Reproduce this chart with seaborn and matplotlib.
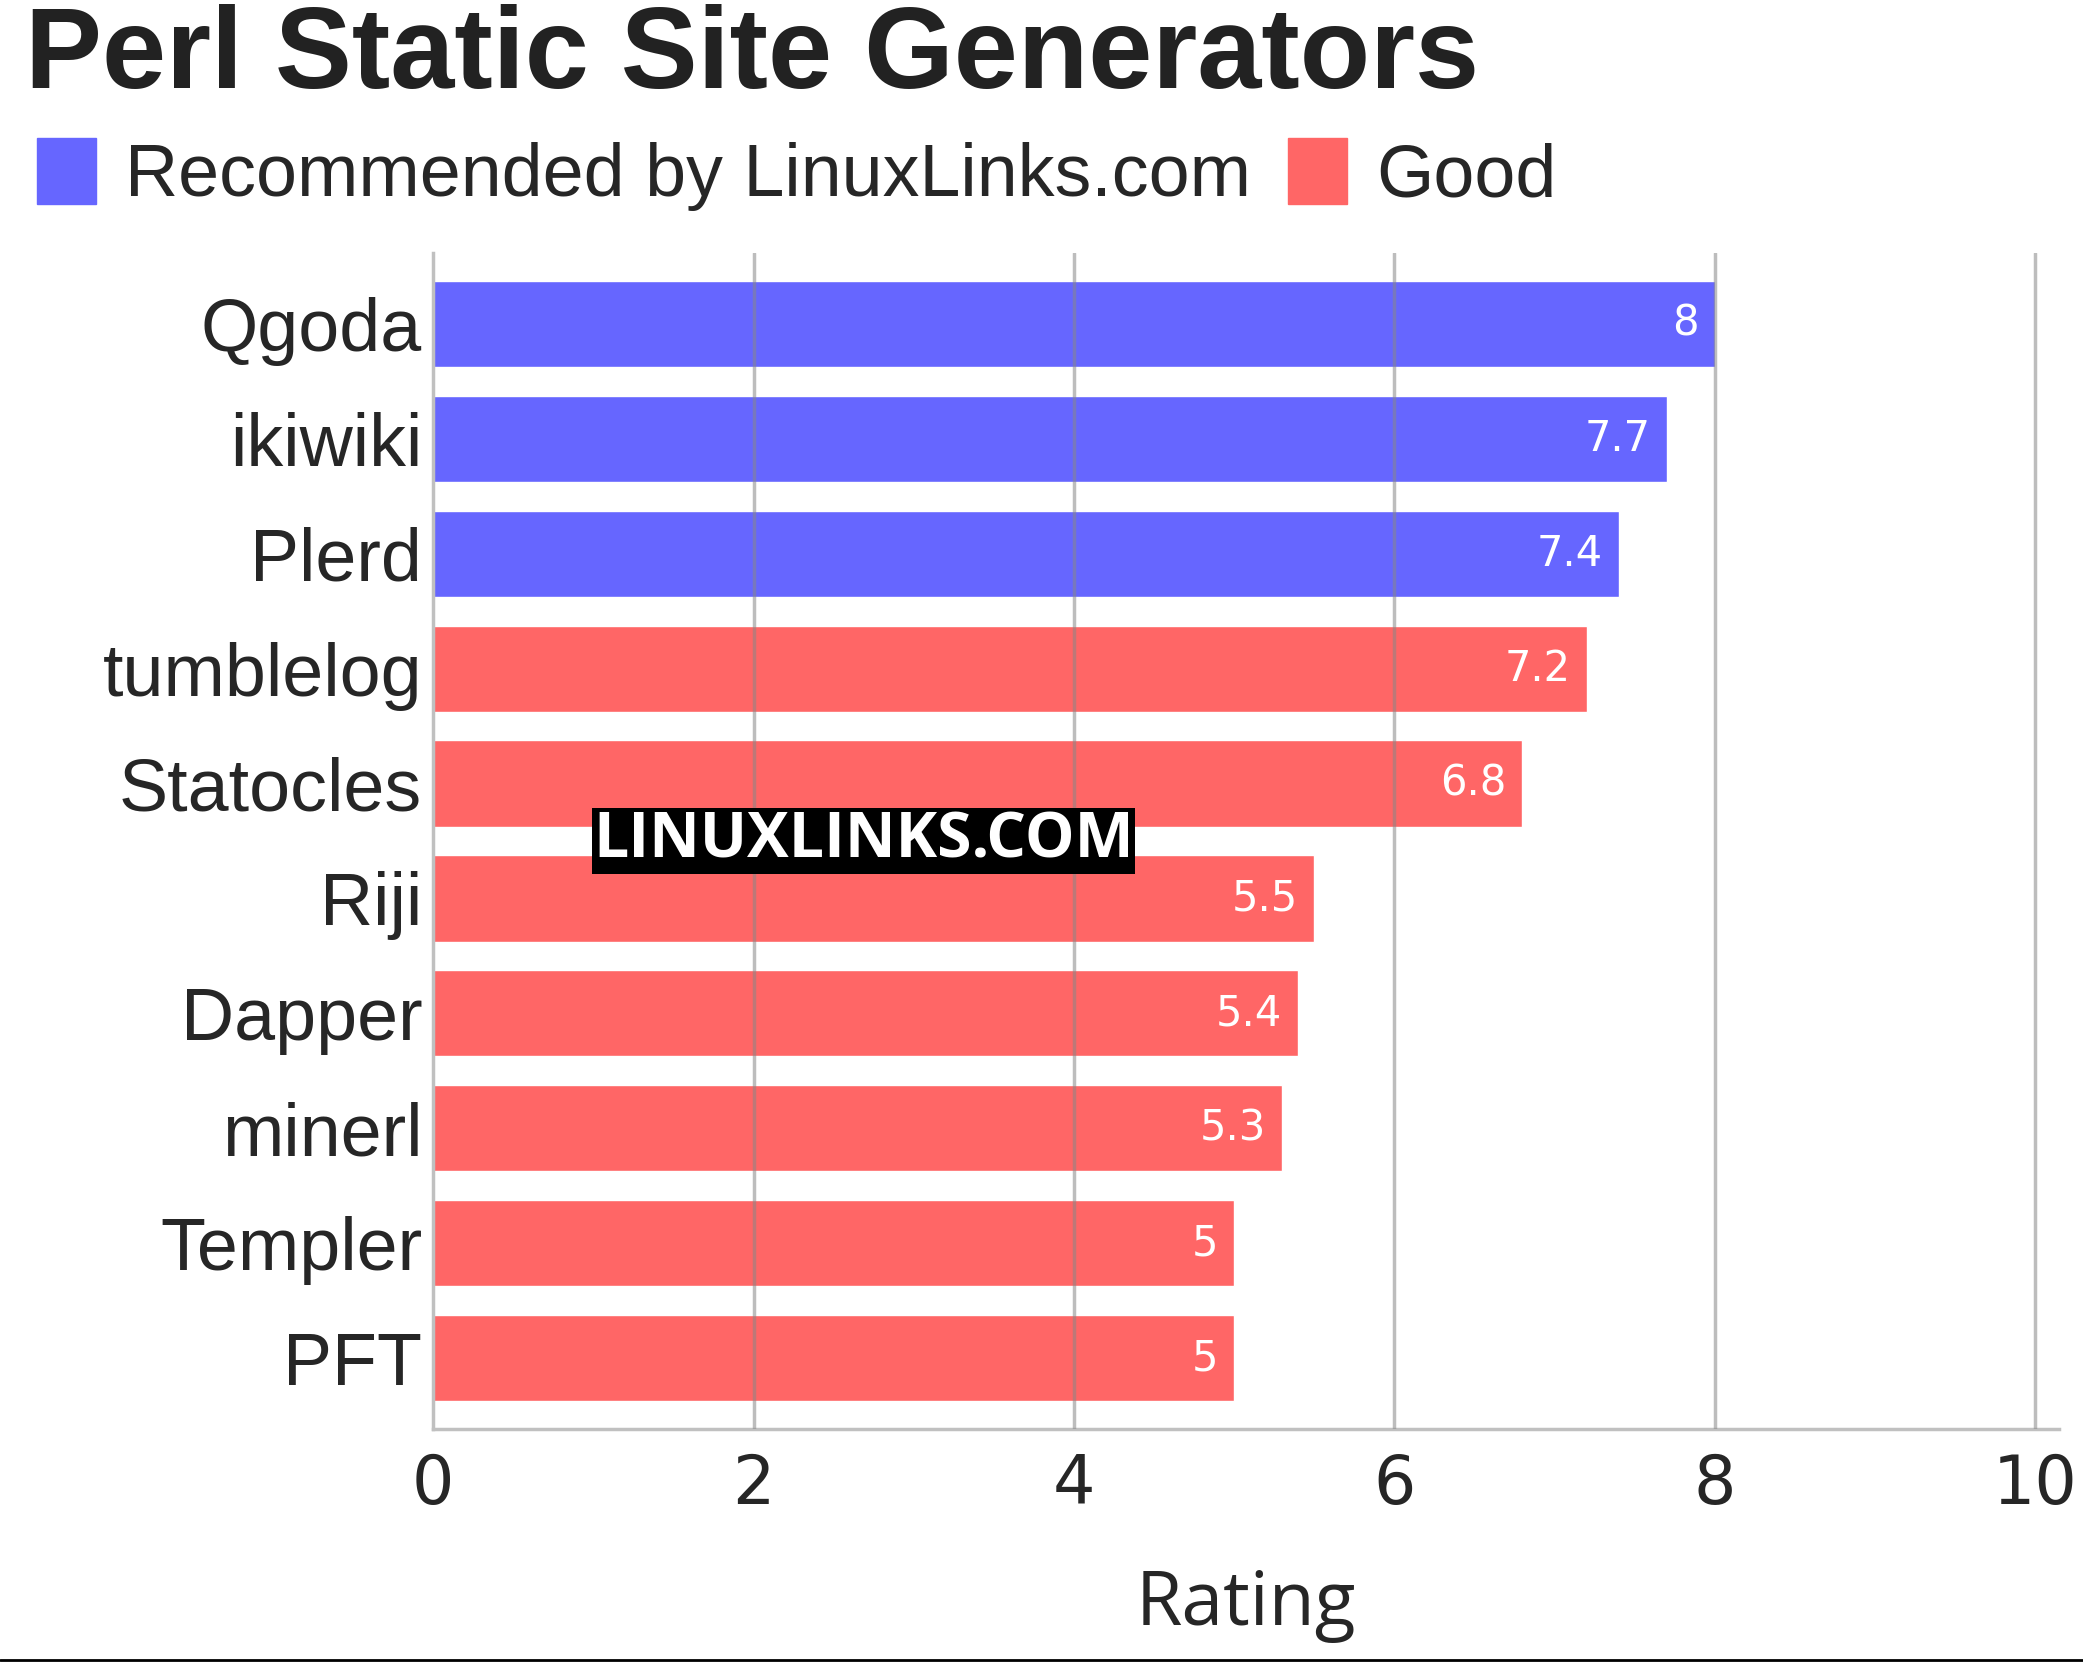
import matplotlib
matplotlib.use("Agg")
import matplotlib.pyplot as plt
import seaborn as sns
import pandas as pd
from matplotlib.patches import Patch

names = ["Qgoda", "ikiwiki", "Plerd", "tumblelog", "Statocles", "Riji", "Dapper", "minerl", "Templer", "PFT"]
ratings = [8, 7.7, 7.4, 7.2, 6.8, 5.5, 5.4, 5.3, 5, 5]
groups = ["Recommended by LinuxLinks.com"] * 3 + ["Good"] * 7
palette = {"Recommended by LinuxLinks.com": "#6666ff", "Good": "#ff6666"}

df = pd.DataFrame({"name": names, "rating": ratings, "group": groups})

sns.set_theme(style="white")
plt.rcParams['font.family'] = ['DejaVu Sans']
fig = plt.figure(figsize=(20.83, 16.62), dpi=100)
ax = fig.add_axes([0.208, 0.14, 0.7805, 0.708])
sns.barplot(data=df, x="rating", y="name", hue="group", palette=palette, dodge=False,
            width=0.75, ax=ax, legend=False, zorder=1, saturation=1)
for x in [2, 4, 6, 8, 10]:
    ax.axvline(x, color="#888888", lw=2.5, alpha=0.55, zorder=3)
ax.set_xlim(0, 10.15)
ax.set_ylim(9.62, -0.62)
ax.set_xticks([0, 2, 4, 6, 8, 10])
ax.tick_params(axis="x", labelsize=48, pad=16, length=0)
ax.tick_params(axis="y", labelsize=53, pad=8, length=0)
for lab in ax.get_yticklabels():
    lab.set_family("Liberation Sans")
ax.set_ylabel("")
ax.set_xlabel("Rating", fontsize=54, labelpad=36, family="Open Sans")
for s in ["top", "right"]:
    ax.spines[s].set_visible(False)
for s in ["left", "bottom"]:
    ax.spines[s].set_color("#c0c0c0")
    ax.spines[s].set_linewidth(2.5)
for i, v in enumerate(ratings):
    ax.text(v - 0.1, i, f"{v:g}", color="white", fontsize=30, ha="right", va="center", zorder=4)

ax.text(1.0, 4.5, "LINUXLINKS.COM", fontsize=45, fontweight="bold", color="white",
        va="center", ha="left", zorder=5, family="Open Sans",
        bbox=dict(facecolor="black", edgecolor="none", pad=1))

fig.text(0.012, 0.965, "Perl Static Site Generators", fontsize=83, fontweight="bold",
         color="#222222", va="center", ha="left", family="Liberation Sans")
handles = [Patch(color=palette[k]) for k in palette]
fig.legend(handles, list(palette), loc="center left", bbox_to_anchor=(-0.014, 0.895), ncol=2,
           frameon=False, prop={"family": "Liberation Sans", "size": 53},
           handlelength=0.8, handleheight=1.0, columnspacing=0.5, handletextpad=0.4)
fig.add_artist(plt.Line2D([0, 1], [0.0015, 0.0015], color="black", lw=2, transform=fig.transFigure))
fig.savefig("out.png", dpi=100)
